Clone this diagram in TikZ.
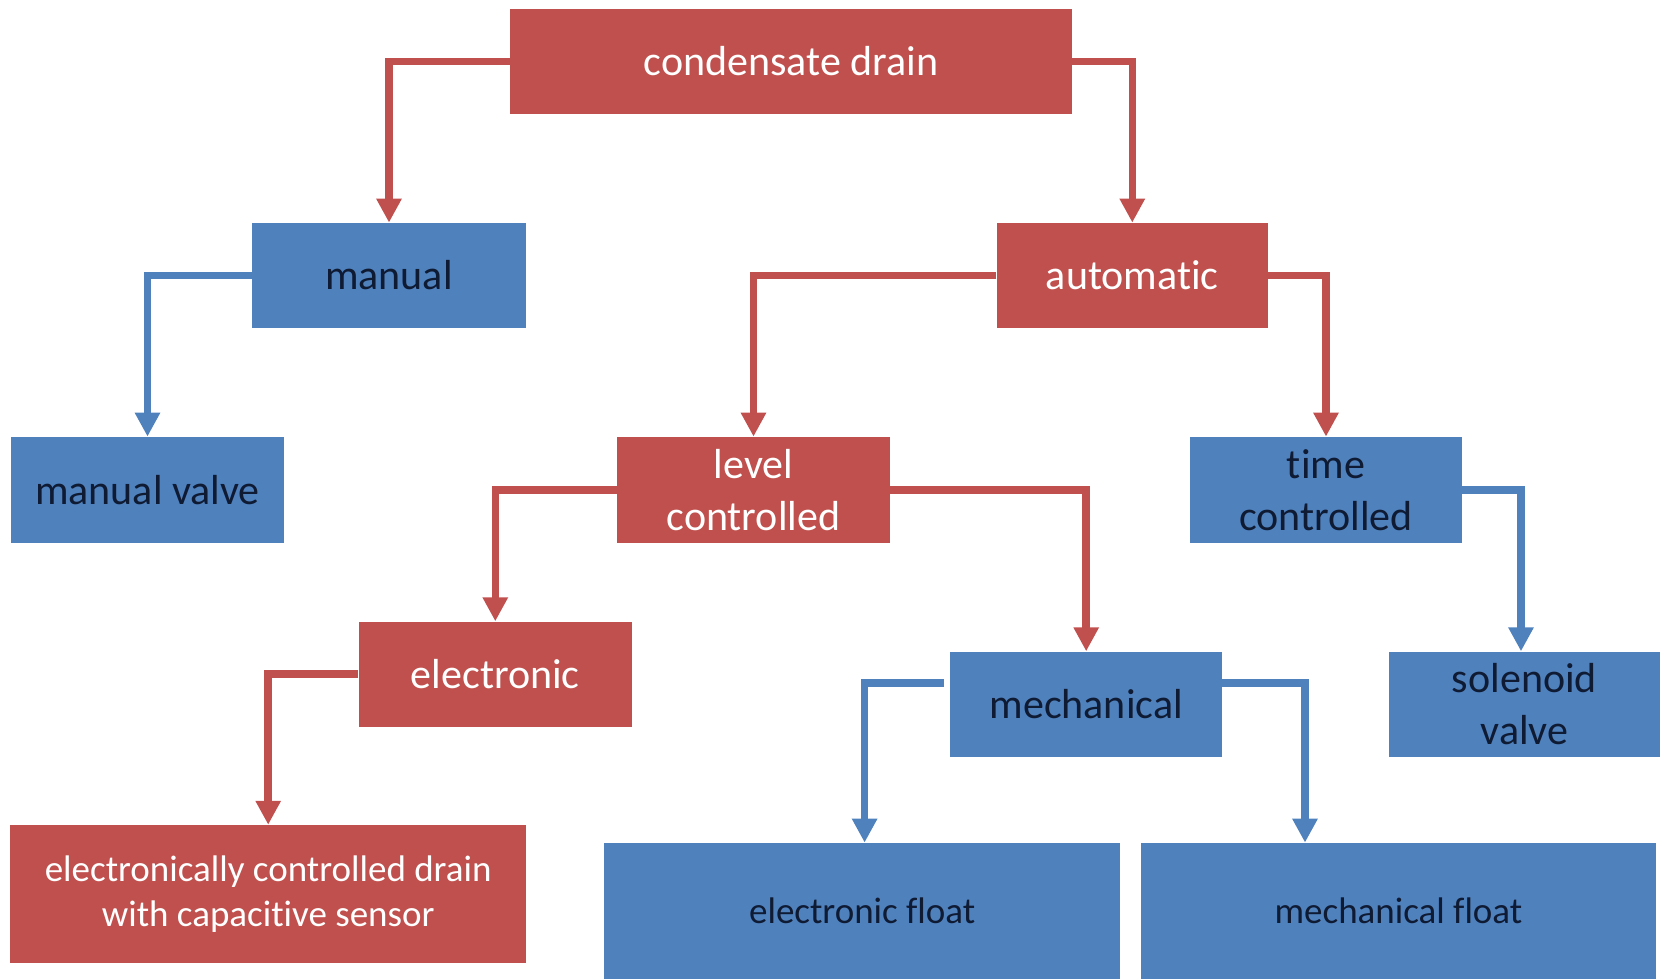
\documentclass[tikz,border=0pt]{standalone}
\usepackage{fontspec}
\setmainfont{Carlito}[Ligatures=NoCommon]
\usetikzlibrary{arrows.meta}
\definecolor{cred}{HTML}{C0504D}
\definecolor{cblue}{HTML}{4F81BD}
\definecolor{ctext}{HTML}{0F1A33}
\tikzset{
  box/.style={inner sep=0pt, align=center, minimum height=52.5pt, minimum width=136.5pt},
  redbox/.style={box, fill=cred, text=white, font=\fontsize{21}{26}\selectfont},
  bluebox/.style={box, fill=cblue, text=ctext, font=\fontsize{21}{26}\selectfont},
  smalltext/.style={font=\fontsize{18.5}{22.2}\selectfont},
  redlink/.style={draw=cred, line width=3.75pt, -{Triangle[width=12pt,length=12pt]}},
  bluelink/.style={draw=cblue, line width=3.75pt, -{Triangle[width=12pt,length=12pt]}}
}
\begin{document}
\begin{tikzpicture}[x=0.5pt,y=-0.5pt]
\useasboundingbox (0,0) rectangle (1661,979);
% nodes
\node[redbox, minimum width=281pt] (cd) at (791,61.5) {condensate drain};
\node[bluebox, minimum width=137pt] (man) at (389,275.5) {manual};
\node[redbox, minimum width=135.5pt] (auto) at (1132.3,275.5) {automatic};
\node[bluebox, minimum height=53pt] (mv) at (147.5,490) {manual valve};
\node[redbox, minimum height=53pt] (lvl) at (753.5,490) {level\\controlled};
\node[bluebox, minimum height=53pt, minimum width=135.75pt] (time) at (1326,490) {time\\controlled};
\node[redbox, minimum width=136.7pt] (elec) at (495.3,674.2) {electronic};
\node[bluebox, minimum width=135.75pt] (mech) at (1086.2,704.2) {mechanical};
\node[bluebox, minimum width=135.5pt] (sol) at (1524.5,704.2) {solenoid\\valve};
\node[redbox, smalltext, minimum width=257.75pt, minimum height=68.85pt] (ecd) at (268.2,894) {electronically controlled drain\\with capacitive sensor};
\node[bluebox, smalltext, minimum width=257.75pt, minimum height=68pt] (ef) at (862.2,911) {electronic float};
\node[bluebox, smalltext, minimum width=257.5pt, minimum height=68pt] (mf) at (1398.5,911) {mechanical float};
% connectors
\draw[redlink] (cd.west) -| (man.north);
\draw[redlink] (cd.east) -| (auto.north);
\draw[bluelink] (man.west) -| (mv.north);
\draw[redlink] (auto.west) -| (lvl.north);
\draw[redlink] (auto.east) -| (time.north);
\draw[redlink] (lvl.west) -| (elec.north);
\draw[redlink] (lvl.east) -| (mech.north);
\draw[bluelink] (time.east) -| ([shift={(-3.5,0)}]sol.north);
\draw[redlink] (elec.west) -| (ecd.north);
\draw[bluelink] ([shift={(-6,-21)}]mech.west) -| ([shift={(2.4,0)}]ef.north);
\draw[bluelink] ([shift={(0,-21)}]mech.east) -| ([shift={(-93.5,0)}]mf.north);
\end{tikzpicture}
\end{document}
